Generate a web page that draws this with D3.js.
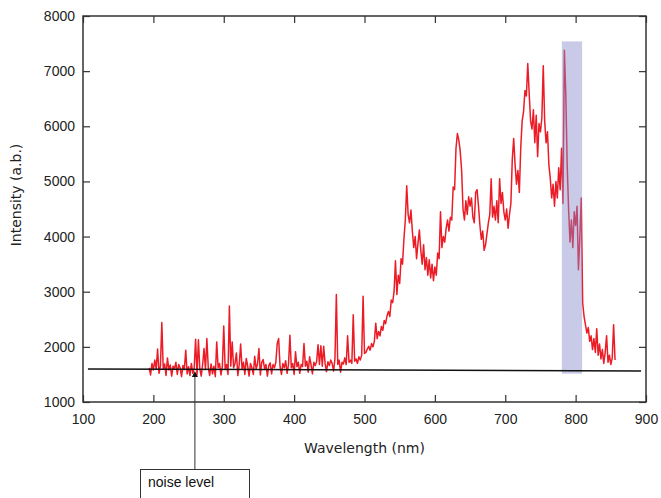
<!DOCTYPE html>
<html>
<head>
<meta charset="utf-8">
<script src="https://cdn.jsdelivr.net/npm/d3@7"></script>
<style>
  body { margin: 0; background: #fff; }
  svg { display: block; font-family: "DejaVu Sans", sans-serif; }
</style>
</head>
<body>
<svg id="chart" width="661" height="498"></svg>
<script>
// spectrum sampled every 2 nm from 194 nm
const wlStart = 194, wlStep = 2;
const intensity = [
  1620,1490,1700,1580,1760,1600,1960,1520,1650,2440,
  1600,1690,1480,1800,1580,1670,1470,1650,1600,1720,
  1500,1680,1620,1460,1660,1590,1940,1510,1640,1480,
  1700,1520,1620,2140,1490,2130,1600,1470,1680,1970,
  1590,2150,1620,1480,1690,1510,1650,1460,2090,1620,
  1700,1490,1640,2380,1600,1680,1500,2740,1650,2090,
  1620,1700,1890,1480,1680,2050,1600,1720,1500,1790,
  1650,1470,1700,1620,1500,1830,1600,1690,1970,1490,
  1720,1770,1600,1680,1470,1660,1710,1510,1680,1620,
  1720,2060,2150,1640,1500,1700,1620,1750,1520,1680,
  2210,1620,1700,1500,1910,1640,1720,1520,1680,1640,
  2060,1650,1740,1540,1820,1680,1510,1720,1660,1740,
  2040,1680,2020,1650,2010,1700,1550,1730,1660,1760,
  1700,1560,1780,2950,1680,1760,1540,1720,1690,1800,
  1680,2200,1720,1760,1700,2580,1740,1780,1700,1820,
  1760,1850,2920,1880,1900,1960,2010,1940,2060,2000,
  2100,2430,2150,2280,2200,2370,2300,2480,2420,2560,
  2640,2550,2850,2800,3000,3560,2950,3300,3150,3600,
  3500,3950,4300,4920,4400,4250,4480,4100,3800,4000,
  3600,3880,4120,3750,3500,3850,3400,3620,3300,3580,
  3250,3500,3200,3450,3300,3700,3600,4450,3800,4000,
  3900,4150,4300,4100,4350,4300,4900,4850,5600,5870,
  5750,5550,5200,4500,4300,4650,4400,4720,4550,4700,
  4350,4250,4800,4850,4550,4200,3950,4100,3750,3850,
  4050,4250,4400,5050,4350,4550,4300,4650,4250,5050,
  4600,4800,4450,4300,4500,4150,4400,4600,5400,5780,
  5300,4950,5200,4800,5600,6100,6260,6650,6550,7140,
  6600,6100,5950,6300,5700,6200,5450,6050,5900,6150,
  7100,6100,5700,5900,5300,5050,4700,4950,4550,5000,
  4700,5250,4850,5600,4600,7380,6600,5300,4500,3900,
  4300,3800,4450,4200,4550,3400,4000,4700,2800,2550,
  2400,2250,2350,2100,2200,1950,2150,1900,2330,1850,
  2050,1780,1950,1700,1900,2200,1720,1850,1680,1800,
  2400,1760
];

const xTicks = [100, 200, 300, 400, 500, 600, 700, 800, 900];
const yTicks = [1000, 2000, 3000, 4000, 5000, 6000, 7000, 8000];

// noise level line (nm, intensity) and highlighted band
const noiseLineNm = [107, 893];
const noiseLineVal = [1599, 1563];
const bandNm = [780.4, 809.2];
const bandVal = [1513, 7539];
const arrowTip = [259, 1562];

const svg = d3.select("#chart");
const margin = {top: 16, right: 15, bottom: 96, left: 83};
const W = 661, H = 498;

const x = d3.scaleLinear().domain([100, 900]).range([margin.left, W - margin.right]);
const y = d3.scaleLinear().domain([1000, 8000]).range([H - margin.bottom, margin.top]);

const points = intensity.map((v, i) => [wlStart + i * wlStep, v]);

const line = d3.line()
  .x(d => x(d[0]))
  .y(d => y(d[1]));

svg.append("path")
  .datum(points)
  .attr("fill", "none")
  .attr("stroke", "#ec1c26")
  .attr("stroke-width", 1.5)
  .attr("stroke-linejoin", "round")
  .attr("d", line);

svg.append("rect")
  .attr("x", x(bandNm[0]))
  .attr("y", y(bandVal[1]))
  .attr("width", x(bandNm[1]) - x(bandNm[0]))
  .attr("height", y(bandVal[0]) - y(bandVal[1]))
  .attr("fill", "rgb(133,138,204)")
  .attr("opacity", 0.45);

svg.append("line")
  .attr("x1", x(noiseLineNm[0])).attr("y1", y(noiseLineVal[0]))
  .attr("x2", x(noiseLineNm[1])).attr("y2", y(noiseLineVal[1]))
  .attr("stroke", "#111")
  .attr("stroke-width", 1.5);

// axes, ticks pointing inwards on all four sides
const axisColor = "#333";
function styleAxis(g) {
  g.select(".domain").remove();
  g.selectAll(".tick line").attr("stroke", axisColor).attr("stroke-width", 1.2);
  g.selectAll(".tick text").attr("fill", "#222").style("font-size", "14px");
}

svg.append("g")
  .attr("transform", `translate(0,${H - margin.bottom})`)
  .call(d3.axisBottom(x).tickValues(xTicks).tickSizeInner(-7).tickSizeOuter(0).tickPadding(12).tickFormat(d3.format("d")))
  .call(styleAxis);

svg.append("g")
  .attr("transform", `translate(0,${margin.top})`)
  .call(d3.axisTop(x).tickValues(xTicks).tickSizeInner(-7).tickSizeOuter(0).tickFormat(""))
  .call(styleAxis);

svg.append("g")
  .attr("transform", `translate(${margin.left},0)`)
  .call(d3.axisLeft(y).tickValues(yTicks).tickSizeInner(-7).tickSizeOuter(0).tickPadding(8).tickFormat(d3.format("d")))
  .call(styleAxis);

svg.append("g")
  .attr("transform", `translate(${W - margin.right},0)`)
  .call(d3.axisRight(y).tickValues(yTicks).tickSizeInner(-7).tickSizeOuter(0).tickFormat(""))
  .call(styleAxis);

svg.append("rect")
  .attr("x", margin.left).attr("y", margin.top)
  .attr("width", W - margin.left - margin.right)
  .attr("height", H - margin.top - margin.bottom)
  .attr("fill", "none")
  .attr("stroke", axisColor)
  .attr("stroke-width", 1.5);

svg.append("text")
  .attr("x", (margin.left + W - margin.right) / 2)
  .attr("y", 448)
  .attr("dy", "0.35em")
  .attr("text-anchor", "middle")
  .attr("fill", "#222")
  .style("font-size", "14px")
  .text("Wavelength (nm)");

svg.append("text")
  .attr("transform", "translate(16,195) rotate(-90)")
  .attr("dy", "0.35em")
  .attr("text-anchor", "middle")
  .attr("fill", "#222")
  .style("font-size", "14px")
  .text("Intensity (a.b.)");

// noise level callout
const boxTop = 469;
const tipX = x(arrowTip[0]), tipY = y(arrowTip[1]);

svg.append("line")
  .attr("x1", tipX).attr("y1", boxTop)
  .attr("x2", tipX).attr("y2", tipY + 4)
  .attr("stroke", "#333")
  .attr("stroke-width", 1);

svg.append("path")
  .attr("d", `M${tipX},${tipY} L${tipX - 3},${tipY + 6} L${tipX + 3},${tipY + 6} Z`)
  .attr("fill", "#111");

svg.append("rect")
  .attr("x", 140.5).attr("y", boxTop + 0.5)
  .attr("width", 109).attr("height", 40)
  .attr("fill", "#fff")
  .attr("stroke", "#333")
  .attr("stroke-width", 1);

svg.append("text")
  .attr("x", 148).attr("y", 487)
  .attr("fill", "#111")
  .style("font-family", "'Liberation Sans', Arial, sans-serif")
  .style("font-size", "14px")
  .text("noise level");
</script>
</body>
</html>
